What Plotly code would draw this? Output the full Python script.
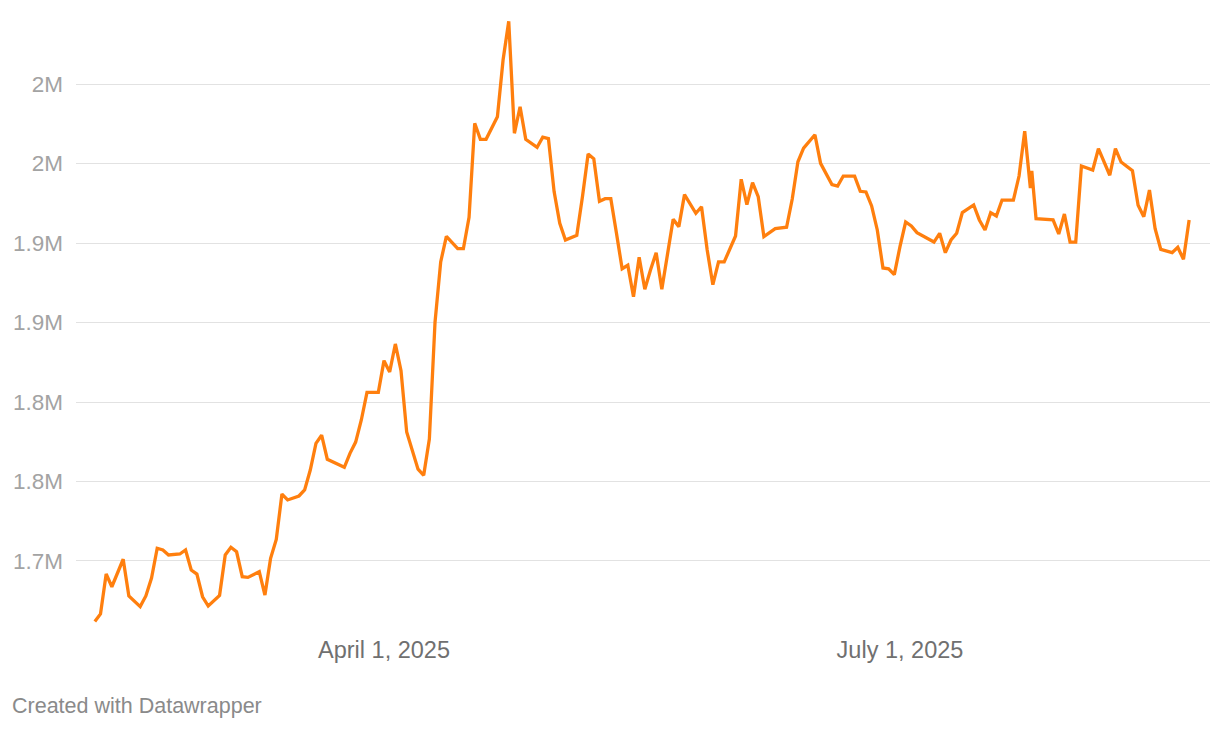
import plotly.graph_objects as go

dates = [
    "2025-02-09", "2025-02-10", "2025-02-11", "2025-02-12", "2025-02-14", "2025-02-15",
    "2025-02-17", "2025-02-18", "2025-02-19", "2025-02-20", "2025-02-21", "2025-02-22",
    "2025-02-24", "2025-02-25", "2025-02-26", "2025-02-27", "2025-02-28", "2025-03-01",
    "2025-03-03", "2025-03-04", "2025-03-05", "2025-03-06", "2025-03-07", "2025-03-08",
    "2025-03-10", "2025-03-11", "2025-03-12", "2025-03-13", "2025-03-14", "2025-03-15",
    "2025-03-17", "2025-03-18", "2025-03-19", "2025-03-20", "2025-03-21", "2025-03-22",
    "2025-03-25", "2025-03-26", "2025-03-27", "2025-03-28", "2025-03-29", "2025-03-31",
    "2025-04-01", "2025-04-02", "2025-04-03", "2025-04-04", "2025-04-05", "2025-04-06",
    "2025-04-07", "2025-04-08", "2025-04-09", "2025-04-10", "2025-04-11", "2025-04-12",
    "2025-04-14", "2025-04-15", "2025-04-16", "2025-04-17", "2025-04-18", "2025-04-19",
    "2025-04-21", "2025-04-22", "2025-04-23", "2025-04-24", "2025-04-25", "2025-04-26",
    "2025-04-28", "2025-04-29", "2025-04-30", "2025-05-01", "2025-05-02", "2025-05-03",
    "2025-05-05", "2025-05-06", "2025-05-07", "2025-05-08", "2025-05-09", "2025-05-10",
    "2025-05-11", "2025-05-12", "2025-05-13", "2025-05-14", "2025-05-15", "2025-05-16",
    "2025-05-17", "2025-05-18", "2025-05-19", "2025-05-20", "2025-05-21", "2025-05-22",
    "2025-05-23", "2025-05-24", "2025-05-26", "2025-05-27", "2025-05-28", "2025-05-29",
    "2025-05-30", "2025-05-31", "2025-06-02", "2025-06-03", "2025-06-04", "2025-06-05",
    "2025-06-06", "2025-06-07", "2025-06-09", "2025-06-11", "2025-06-12", "2025-06-13",
    "2025-06-14", "2025-06-16", "2025-06-17", "2025-06-18", "2025-06-19", "2025-06-20",
    "2025-06-21", "2025-06-23", "2025-06-24", "2025-06-25", "2025-06-26", "2025-06-27",
    "2025-06-28", "2025-06-29", "2025-06-30", "2025-07-01", "2025-07-02", "2025-07-03",
    "2025-07-04", "2025-07-07", "2025-07-08", "2025-07-09", "2025-07-10", "2025-07-11",
    "2025-07-12", "2025-07-14", "2025-07-15", "2025-07-16", "2025-07-17", "2025-07-18",
    "2025-07-19", "2025-07-21", "2025-07-22", "2025-07-23", "2025-07-24", "2025-07-24 06:00",
    "2025-07-25", "2025-07-28", "2025-07-29", "2025-07-30", "2025-07-31", "2025-08-01",
    "2025-08-02", "2025-08-04", "2025-08-05", "2025-08-07", "2025-08-08", "2025-08-09",
    "2025-08-11", "2025-08-12", "2025-08-13", "2025-08-14", "2025-08-15", "2025-08-16",
    "2025-08-18", "2025-08-19", "2025-08-20", "2025-08-21",
]

values = [
    1662000, 1666700, 1691800, 1683800, 1701100, 1678000,
    1671300, 1678000, 1689300, 1708000, 1706900, 1703800,
    1704400, 1706900, 1694300, 1691800, 1677500, 1671700,
    1678400, 1703800, 1708600, 1705800, 1690100, 1689700,
    1693300, 1678600, 1701700, 1713600, 1742100, 1738400,
    1740900, 1744700, 1757200, 1774000, 1779100, 1764000,
    1758900, 1767700, 1774800, 1788700, 1806100, 1806100,
    1826000, 1818900, 1836500, 1819700, 1781100, 1769800,
    1757700, 1753900, 1776700, 1850300, 1888100, 1904200,
    1896400, 1896400, 1916200, 1975300, 1965200, 1965200,
    1979400, 2015100, 2039400, 1969000, 1985700, 1965200,
    1960200, 1966500, 1965600, 1932300, 1912400, 1901900,
    1904800, 1929100, 1956000, 1953000, 1926200, 1927900,
    1927900, 1906100, 1883800, 1886000, 1866200, 1891000,
    1870900, 1883000, 1893900, 1870900, 1893100, 1914900,
    1910300, 1930400, 1918700, 1922800, 1895600, 1873800,
    1888100, 1888100, 1904400, 1940100, 1924100, 1937900,
    1929100, 1904000, 1909000, 1909900, 1927700, 1951100,
    1959700, 1968100, 1950100, 1943000, 1936700, 1935800,
    1942100, 1942100, 1932500, 1932100, 1923300, 1908200,
    1884300, 1883800, 1880100, 1897700, 1913200, 1910700,
    1906500, 1900600, 1906100, 1893900, 1901900, 1906100,
    1919100, 1923900, 1914500, 1908200, 1919100, 1917000,
    1927000, 1927000, 1942100, 1970300, 1934600, 1945300,
    1915300, 1914500, 1905700, 1918200, 1900600, 1900600,
    1948400, 1945900, 1959300, 1942600, 1959300, 1950900,
    1945500, 1923700, 1916500, 1933300, 1909000, 1896000,
    1893900, 1897300, 1889700, 1914500,
]

y_tickvals = [1700000, 1750000, 1800000, 1850000, 1900000, 1950000, 2000000]
y_ticktext = ["1.7M", "1.8M", "1.8M", "1.9M", "1.9M", "2M", "2M"]
x_tickvals = ["2025-04-01", "2025-07-01"]
x_ticktext = ["April 1, 2025", "July 1, 2025"]

FONT = "Liberation Sans, Arial, Helvetica, sans-serif"

fig = go.Figure()
fig.add_trace(go.Scatter(
    x=dates, y=values, mode="lines",
    line=dict(color="#ff7f0e", width=3.3),
    hoverinfo="skip", showlegend=False,
))

fig.update_layout(
    width=1220, height=730,
    margin=dict(l=76, r=10, t=10, b=100),
    paper_bgcolor="white", plot_bgcolor="white",
    font=dict(family=FONT),
    xaxis=dict(
        type="date",
        range=["2025-02-05 16:19", "2025-08-24 16:19"],
        tickvals=x_tickvals, ticktext=x_ticktext,
        showgrid=False, zeroline=False, showline=False,
        ticks="", ticklabelstandoff=3,
        tickfont=dict(size=23.5, color="#707070", family=FONT),
    ),
    yaxis=dict(
        range=[1656600, 2046540],
        tickvals=y_tickvals, ticktext=y_ticktext,
        showgrid=True, gridcolor="#e2e2e2", gridwidth=1,
        zeroline=False, showline=False,
        ticks="", ticklabelstandoff=12,
        tickfont=dict(size=22.5, color="#a3a3a3", family=FONT),
    ),
    annotations=[dict(
        text="Created with Datawrapper",
        xref="paper", yref="paper",
        x=-0.0582, y=-0.1226,
        xanchor="left", yanchor="middle",
        showarrow=False,
        font=dict(size=21.5, color="#8a8a8a", family=FONT),
    )],
)

fig.write_html(
    "out.html",
    config={"displayModeBar": False, "staticPlot": True},
    post_script="document.body.style.margin='0';document.body.style.padding='0';",
)
